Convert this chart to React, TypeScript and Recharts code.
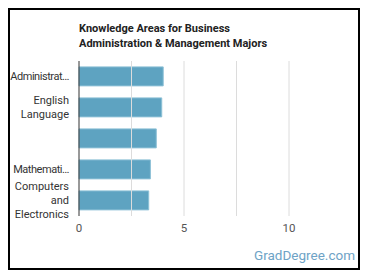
import React from "react";
import { BarChart, Bar, XAxis, YAxis, ReferenceLine } from "recharts";

const categories = ["Administration and Management", "English Language", "", "Mathematics", "Computers and Electronics"];
const values = [4.01, 3.94, 3.68, 3.4, 3.32];
const tickLabels: string[][] = [["Administrat\u2026"], ["English", "Language"], [], ["Mathemati\u2026"], ["Computers", "and", "Electronics"]];
const xTicks = [0, 2.5, 5, 7.5, 10];
const xTickLabels: Record<string, string> = { "0": "0", "5": "5", "10": "10" };

const data = categories.map((c, i) => ({ name: c, value: values[i], idx: i }));

const FONT = "Roboto, 'Noto Sans', sans-serif";

const YTick = (props: any) => {
  const { x, y, index } = props;
  const lines = tickLabels[index] || [];
  const lh = 14;
  const start = y - ((lines.length - 1) * lh) / 2;
  return (
    <g>
      {lines.map((l, i) => (
        <text key={i} x={x - 2} y={start + i * lh} dy="0.36em" textAnchor="end" fontSize={11} letterSpacing={l.endsWith("\u2026") ? -0.45 : 0} fontFamily={FONT} fill="#333">
          {l}
        </text>
      ))}
    </g>
  );
};

export default function App() {
  return (
    <div style={{ width: 348, height: 258, border: "2px solid #000", position: "relative", background: "#fff" }}>
      <div style={{ position: "absolute", left: 69, top: 11, fontFamily: FONT, fontWeight: 700, fontSize: 11, lineHeight: "15px", color: "#222" }}>
        Knowledge Areas for Business
        <br />
        Administration &amp; Management Majors
      </div>
      <BarChart width={348} height={258} data={data} layout="vertical" margin={{ top: 51, right: 16.5, bottom: 22, left: 0 }} barCategoryGap="19%">
        {xTicks.slice(1).map((t) => (
          <ReferenceLine key={t} x={t} stroke="#dcdcdc" ifOverflow="extendDomain" />
        ))}
        <XAxis
          type="number"
          domain={[0, 12.5]}
          ticks={xTicks}
          axisLine={false}
          tickLine={false}
          height={30}
          tick={{ fontSize: 11.5, fontFamily: FONT, fill: "#555" }}
          tickFormatter={(v: number) => xTickLabels[String(v)] ?? ""}
        />
        <YAxis
          type="category"
          dataKey="name"
          width={69}
          axisLine={{ stroke: "#333" }}
          tickLine={false}
          tick={<YTick />}
          interval={0}
        />
        <Bar dataKey="value" fill="#5ea3c1" stroke="#8cc0d6" strokeWidth={1} isAnimationActive={false} />
      </BarChart>
      <div style={{ position: "absolute", right: 3, top: 237, fontFamily: FONT, fontSize: 13.5, color: "#6ea3c6" }}>GradDegree.com</div>
    </div>
  );
}
